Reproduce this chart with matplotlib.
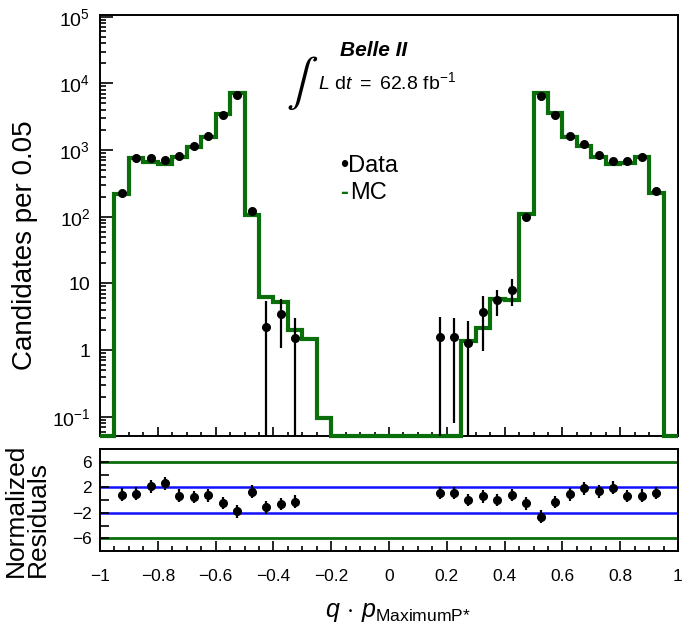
import numpy as np
import matplotlib
matplotlib.use('Agg')
import matplotlib.pyplot as plt
from matplotlib.ticker import FixedLocator, MultipleLocator, FuncFormatter, NullFormatter

plt.rcParams['font.family'] = ['Liberation Sans', 'DejaVu Sans']
plt.rcParams['mathtext.fontset'] = 'custom'
plt.rcParams['mathtext.rm'] = 'Liberation Sans'
plt.rcParams['mathtext.it'] = 'Liberation Sans:italic'
plt.rcParams['mathtext.bf'] = 'Liberation Sans:bold'
plt.rcParams['axes.unicode_minus'] = True

# ---------------- data ----------------
bin_edges = np.linspace(-1.0, 1.0, 41)          # 40 bins of width 0.05
bin_centers = 0.5 * (bin_edges[:-1] + bin_edges[1:])

mc_counts = np.array([
    0, 219, 767, 660, 617, 794, 1097, 1550, 3460, 7080,
    106, 6.2, 5.3, 2.0, 1.45, 0.095, 0, 0, 0, 0,
    0, 0, 0, 0, 0, 1.38, 2.12, 5.76, 5.6, 109,
    7080, 3550, 1585, 1150, 780, 617, 630, 780, 229, 0])

nan = np.nan
data_counts = np.array([
    nan, 229, 770, 750, 716, 805, 1150, 1620, 3380, 6640,
    123, 2.19, 3.47, 1.53, nan, nan, nan, nan, nan, nan,
    nan, nan, nan, 1.58, 1.58, 1.29, 3.76, 5.6, 8.1, 98,
    6530, 3350, 1640, 1230, 850, 685, 690, 795, 245, nan])

data_errors = np.array([
    nan, 15, 28, 27, 27, 28, 34, 40, 58, 81,
    11, 3.3, 2.4, 1.5, nan, nan, nan, nan, nan, nan,
    nan, nan, nan, 1.58, 1.5, 1.4, 2.8, 2.4, 3.5, 10,
    81, 58, 40, 35, 29, 26, 26, 28, 16, nan])

residuals = np.array([
    nan, 0.84, 1.0, 2.15, 2.63, 0.68, 0.47, 0.74, -0.47, -1.8,
    1.31, -1.17, -0.63, -0.27, nan, nan, nan, nan, nan, nan,
    nan, nan, nan, 1.1, 1.1, 0.0, 0.58, 0.0, 0.79, -0.53,
    -2.6, -0.32, 0.9, 1.84, 1.37, 1.95, 0.63, 0.68, 1.1, nan])
residual_errors = np.where(np.isnan(residuals), nan, 1.0)

x_ticks = [-1, -0.8, -0.6, -0.4, -0.2, 0, 0.2, 0.4, 0.6, 0.8, 1]
x_ticklabels = ['\u22121', '\u22120.8', '\u22120.6', '\u22120.4', '\u22120.2', '0',
                '0.2', '0.4', '0.6', '0.8', '1']
y_decades = [0.1, 1, 10, 100, 1000, 1e4, 1e5]
y_ticklabels = ['$10^{\u22121}$', '1', '10', '$10^{2}$', '$10^{3}$', '$10^{4}$', '$10^{5}$']
res_ticks = [-6, -2, 2, 6]
res_ticklabels = ['\u22126', '\u22122', '2', '6']
res_unlabeled_ticks = [-4, 0, 4]

# ---------------- figure ----------------
W, H = 685, 634
fig = plt.figure(figsize=(W / 100, H / 100), dpi=100)

def px(x0, y0, x1, y1):
    return [x0 / W, 1 - y1 / H, (x1 - x0) / W, (y1 - y0) / H]

green = '#0a6e0a'
ax = fig.add_axes(px(100, 15, 678, 436))
axr = fig.add_axes(px(100, 449, 678, 551))

ymin, ymax = 0.0515, 1.06e5
ax.set_yscale('log')
ax.set_xlim(-1, 1)
ax.set_ylim(ymin, ymax)

mc_plot = np.where(mc_counts > 0, mc_counts, ymin)
ax.stairs(mc_plot, bin_edges, baseline=None, color=green, lw=3, zorder=2.6, clip_on=False)

m = ~np.isnan(data_counts)
dv = data_counts[m]
de = data_errors[m]
lo = np.minimum(de, dv * 0.999)
ax.errorbar(bin_centers[m], dv, yerr=[lo, de], fmt='o', color='k', ms=5.5,
            elinewidth=1.6, capsize=0, zorder=4)

minor_y = [d * k for d in [0.01, 0.1, 1, 10, 100, 1000, 1e4] for k in range(2, 10)
           if ymin <= d * k <= ymax]
ax.yaxis.set_major_locator(FixedLocator(y_decades))
ax.yaxis.set_minor_locator(FixedLocator(minor_y))
ax.set_yticklabels(y_ticklabels)
ax.yaxis.set_minor_formatter(NullFormatter())
ax.xaxis.set_major_locator(FixedLocator(x_ticks))
ax.xaxis.set_minor_locator(MultipleLocator(0.05))
ax.xaxis.set_major_formatter(NullFormatter())
ax.tick_params(which='both', direction='in', top=False, right=False, width=1.2)
ax.tick_params(axis='y', which='major', length=9, labelsize=14, pad=7)
ax.tick_params(axis='y', which='minor', length=4.5)
ax.tick_params(axis='x', which='major', length=6.5, labelbottom=False)
ax.tick_params(axis='x', which='minor', length=3.2)
for s in ax.spines.values():
    s.set_linewidth(1.4)

# residual panel
axr.set_xlim(-1, 1)
axr.set_ylim(-8, 8)
axr.axhline(6, color=green, lw=2, zorder=1)
axr.axhline(-6, color=green, lw=2, zorder=1)
axr.axhline(2, color='#1010ff', lw=1.8, zorder=1)
axr.axhline(-2, color='#1010ff', lw=1.8, zorder=1)
mr = ~np.isnan(residuals)
axr.errorbar(bin_centers[mr], residuals[mr], yerr=residual_errors[mr], fmt='o', color='k',
             ms=5.5, elinewidth=1.6, capsize=0, zorder=4)
axr.xaxis.set_major_locator(FixedLocator(x_ticks))
axr.xaxis.set_minor_locator(MultipleLocator(0.05))
axr.set_xticklabels(x_ticklabels)
axr.yaxis.set_major_locator(FixedLocator(res_ticks))
axr.yaxis.set_minor_locator(FixedLocator(res_unlabeled_ticks))
axr.set_yticklabels(res_ticklabels)
axr.tick_params(which='both', direction='in', top=False, right=False, width=1.2)
axr.tick_params(axis='x', which='major', length=7, labelsize=12.5, pad=13)
axr.tick_params(axis='x', which='minor', length=3.5)
axr.tick_params(axis='y', which='both', length=6.5)
axr.tick_params(axis='y', which='major', labelsize=12.5, pad=6)
for s in axr.spines.values():
    s.set_linewidth(1.4)

# labels
fig.text(25 / W, 1 - 245 / H, 'Candidates per 0.05', rotation=90, ha='center', va='center', fontsize=20)
fig.text(27 / W, 1 - 577 / H, 'Normalized\nResiduals', rotation=90, ha='center', va='bottom',
         multialignment='left', fontsize=19, linespacing=0.92)
fig.text(398 / W, 1 - 612 / H, r'$q\,\cdot\,p_{\mathrm{MaximumP}{*}}$', ha='center', va='center', fontsize=18)

# annotations
fig.text(374 / W, 1 - 51 / H, 'Belle II', ha='center', va='center', fontsize=15,
         fontweight='bold', fontstyle='italic')
fig.text(302 / W, 1 - 83 / H, r'$\int$', ha='center', va='center', fontsize=34, math_fontfamily='stix')
fig.text(318 / W, 1 - 82 / H, r'$L\ \mathrm{d}t\ =\ 62.8\ \mathrm{fb}^{-1}$', ha='left', va='center', fontsize=14)

fig.text(340 / W, 1 - 166 / H, '\u2022Data', ha='left', va='center', fontsize=17)
fig.text(340 / W, 1 - 193 / H, '-', ha='left', va='center', fontsize=17, color=green, fontweight='bold')
fig.text(350 / W, 1 - 193 / H, 'MC', ha='left', va='center', fontsize=17)

fig.savefig('out.png', dpi=100)
